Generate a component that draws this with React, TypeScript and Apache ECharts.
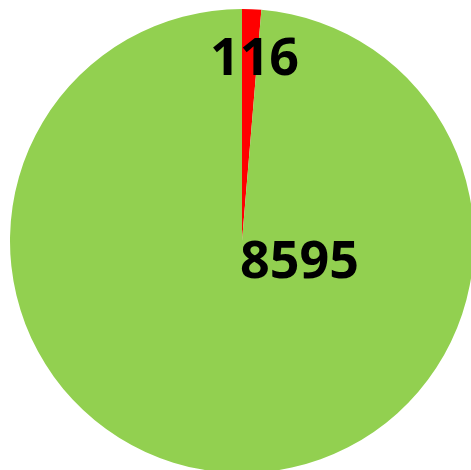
import React, { useEffect, useRef } from "react";
import * as echarts from "echarts";

const categories = ["A", "B"];
const values = [116, 8595];
const colors = ["#ff0000", "#92d050"];

export default function App() {
  const ref = useRef<HTMLDivElement>(null);
  useEffect(() => {
    const chart = echarts.init(ref.current!, undefined, { renderer: "svg" });
    const labelPos = [
      { x: 254.5, y: 54 },
      { x: 299.5, y: 257 },
    ];
    chart.setOption({
      animation: false,
      backgroundColor: "#ffffff",
      series: [
        {
          type: "pie",
          center: [242, 241],
          radius: 232,
          startAngle: 90,
          clockwise: true,
          silent: true,
          itemStyle: { borderWidth: 0 },
          label: {
            show: true,
            position: "inside",
            formatter: "{c}",
            color: "#000000",
            fontFamily: "Open Sans",
            fontWeight: "bold",
            fontSize: 52,
          },
          labelLine: { show: false },
          labelLayout: (p: any) => ({
            x: labelPos[p.dataIndex].x,
            y: labelPos[p.dataIndex].y,
            align: "center",
            verticalAlign: "middle",
          }),
          data: categories.map((c, i) => ({
            name: c,
            value: values[i],
            itemStyle: { color: colors[i] },
          })),
        },
      ],
    });
    return () => chart.dispose();
  }, []);
  return (
    <div
      ref={ref}
      style={{ position: "absolute", left: 0, top: 0, width: 471, height: 470 }}
    />
  );
}
